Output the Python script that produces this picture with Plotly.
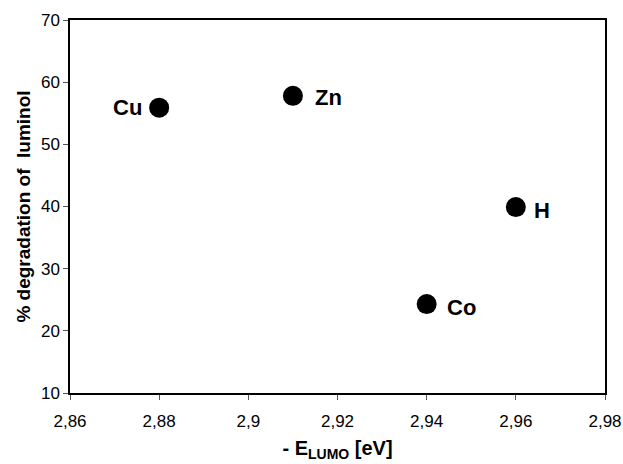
import plotly.graph_objects as go

# Data
labels = ["Cu", "Zn", "Co", "H"]
e_lumo = [2.88, 2.91, 2.94, 2.96]
degradation = [55.9, 57.8, 24.3, 39.9]

x_tickvals = [2.86, 2.88, 2.90, 2.92, 2.94, 2.96, 2.98]
x_ticktext = ["2,86", "2,88", "2,9", "2,92", "2,94", "2,96", "2,98"]
y_tickvals = [10, 20, 30, 40, 50, 60, 70]

FONT = "Liberation Sans, Arial"

# label placement styles (pixel offsets relative to the marker)
label_style = {
    "Cu": dict(xanchor="right", xshift=-15, yshift=0),
    "Zn": dict(xanchor="left", xshift=20, yshift=-2),
    "Co": dict(xanchor="left", xshift=18, yshift=-3),
    "H": dict(xanchor="left", xshift=16, yshift=-3),
}

fig = go.Figure()
fig.add_trace(go.Scatter(
    x=e_lumo, y=degradation, mode="markers",
    marker=dict(size=20, color="black"),
    hoverinfo="skip", showlegend=False,
))

for lab, xv, yv in zip(labels, e_lumo, degradation):
    st = label_style[lab]
    fig.add_annotation(x=xv, y=yv, text=lab, showarrow=False,
                       xanchor=st["xanchor"], yanchor="middle",
                       xshift=st["xshift"], yshift=st["yshift"],
                       font=dict(family=FONT, size=22, color="black", weight="bold"))

axis_common = dict(
    showline=True, linecolor="black", linewidth=1.5, mirror=True,
    ticks="outside", ticklen=5, tickcolor="#555555", tickwidth=1,
    showgrid=False, zeroline=False, automargin=False,
    tickfont=dict(family=FONT, size=17, color="black"),
)

fig.update_xaxes(range=[2.86, 2.98], tickvals=x_tickvals, ticktext=x_ticktext,
                 ticklabelstandoff=7,
                 title=dict(text="- E<sub>LUMO</sub> [eV]", standoff=11,
                            font=dict(family=FONT, size=20, color="black", weight="bold")),
                 **axis_common)
fig.update_yaxes(range=[10, 70], tickvals=y_tickvals,
                 title=dict(text="% degradation of  luminol", standoff=5,
                            font=dict(family=FONT, size=19, color="black", weight="bold")),
                 **axis_common)

fig.update_layout(
    width=623, height=464,
    margin=dict(l=70, r=18, t=20, b=71),
    plot_bgcolor="white", paper_bgcolor="white",
)

fig.write_html("out.html", config={"displayModeBar": False},
               post_script="document.body.style.margin='0';document.body.style.overflow='hidden';")
